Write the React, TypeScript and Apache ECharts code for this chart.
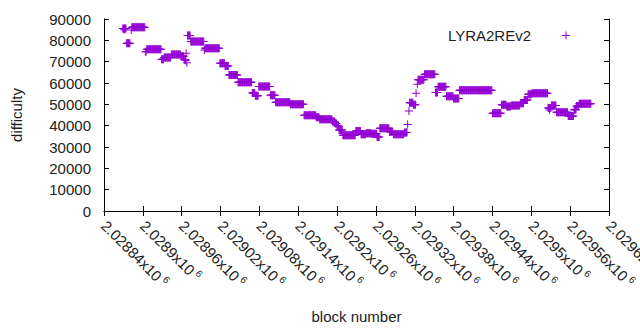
import React, { useEffect, useRef } from "react";
import * as echarts from "echarts";

const seriesName = "LYRA2REv2";
const xMin = 2028840;
const xMax = 2029620;
const xStep = 60;
const yMin = 0;
const yMax = 90000;
const yStep = 10000;

// Difficulty runs: every block from runStart to runEnd has the value runValue
const runStart = [
  2028869, 2028875, 2028882, 2028883, 2028904, 2028906, 2028929, 2028933, 2028944, 2028959,
  2028964, 2028967, 2028968, 2028969, 2028974, 2028995, 2028996, 2029019, 2029027, 2029033,
  2029047, 2029069, 2029074, 2029079, 2029097, 2029105, 2029128, 2029149, 2029168, 2029173,
  2029193, 2029197, 2029200, 2029203, 2029209, 2029229, 2029237, 2029245, 2029253, 2029262,
  2029266, 2029281, 2029287, 2029304, 2029309, 2029311, 2029312, 2029318, 2029322, 2029324,
  2029325, 2029335, 2029352, 2029356, 2029369, 2029380, 2029389, 2029440, 2029454, 2029462,
  2029469, 2029483, 2029489, 2029495, 2029501, 2029526, 2029531, 2029539, 2029557, 2029566,
  2029570, 2029574,
];
const runEnd = [
  2028874, 2028880, 2028882, 2028903, 2028905, 2028928, 2028932, 2028943, 2028958, 2028963,
  2028966, 2028967, 2028968, 2028973, 2028994, 2028995, 2029018, 2029026, 2029032, 2029046,
  2029068, 2029073, 2029078, 2029096, 2029104, 2029127, 2029148, 2029167, 2029172, 2029192,
  2029196, 2029199, 2029202, 2029208, 2029228, 2029236, 2029244, 2029252, 2029261, 2029265,
  2029280, 2029286, 2029303, 2029308, 2029309, 2029311, 2029317, 2029321, 2029322, 2029324,
  2029334, 2029351, 2029355, 2029368, 2029379, 2029388, 2029439, 2029453, 2029461, 2029468,
  2029482, 2029488, 2029494, 2029500, 2029525, 2029530, 2029538, 2029556, 2029565, 2029569,
  2029573, 2029592,
];
const runValue = [
  85600, 78600, 84800, 86100, 74700, 75800, 71100, 72000, 73400, 72500,
  71000, 73900, 69500, 82300, 79500, 75500, 76300, 69200, 68000, 63700,
  60300, 55300, 54000, 58400, 54200, 51000, 50000, 44850, 44000, 43000,
  42000, 41000, 40000, 38000, 35500, 37500, 36000, 36500, 36200, 34700,
  38750, 37200, 35950, 36800, 40600, 46900, 50800, 49800, 55200, 59400,
  61500, 64100, 55600, 58300, 53800, 52700, 56600, 45800, 49800, 49000,
  49500, 50500, 52000, 54700, 55200, 48300, 49400, 46300, 44500, 47500,
  49200, 50300,
];
// Isolated outlier blocks
const extraBlock = [2028871, 2028966, 2029528, 2029262];
const extraValue = [85000, 70500, 47300, 35000];

const plusPath = "path://M-4,-0.5L4,-0.5L4,0.5L-4,0.5Z M-0.5,-4L0.5,-4L0.5,4L-0.5,4Z";
const color = "#9400d3";
const font = "'Liberation Sans', Arial, sans-serif";

function buildData(): [number, number][] {
  const out: [number, number][] = [];
  for (let i = 0; i < runStart.length; i++) {
    for (let b = runStart[i]; b <= runEnd[i]; b++) out.push([b, runValue[i]]);
  }
  for (let i = 0; i < extraBlock.length; i++) out.push([extraBlock[i], extraValue[i]]);
  return out;
}

function fmtX(v: number): string {
  const s = parseFloat((v / 1e6).toFixed(5)).toString();
  return "{a|" + s + "x10}{s|6}";
}

export default function App() {
  const ref = useRef<HTMLDivElement>(null);
  useEffect(() => {
    if (!ref.current) return;
    const chart = echarts.init(ref.current, null, { renderer: "svg" });
    const axisLine = { show: true, lineStyle: { color: "#000", width: 1 } };
    const tick = { show: true, inside: true, length: 5, lineStyle: { color: "#000" } };
    chart.setOption({
      animation: false,
      backgroundColor: "#fff",
      textStyle: { fontFamily: font },
      grid: {
        left: 104,
        right: 31,
        top: 19,
        bottom: 119,
        containLabel: false,
        outerBoundsMode: "none",
      },
      legend: {
        show: true,
        right: 65,
        top: 23,
        align: "right",
        icon: plusPath,
        itemWidth: 8,
        itemHeight: 8,
        textStyle: { fontSize: 15, color: "#222", fontFamily: font, padding: [0, 26, 0, 0] },
        data: [seriesName],
      },
      xAxis: [
        {
          type: "value",
          min: xMin,
          max: xMax,
          interval: xStep,
          position: "bottom",
          name: "block number",
          nameLocation: "middle",
          nameGap: 98,
          nameTextStyle: { fontSize: 15, color: "#222", fontFamily: font },
          axisLine,
          axisTick: tick,
          splitLine: { show: false },
          axisLabel: {
            show: true,
            interval: 0,
            rotate: -45,
            margin: 12,
            hideOverlap: false,
            showMinLabel: true,
            showMaxLabel: true,
            formatter: fmtX,
            rich: {
              a: { fontSize: 15, color: "#222", fontFamily: font, lineHeight: 18 },
              s: { fontSize: 10, color: "#222", fontFamily: font, verticalAlign: "top", padding: [0, 0, 0, 3], lineHeight: 18 },
            },
          },
        },
        {
          type: "value",
          min: xMin,
          max: xMax,
          interval: xStep,
          position: "top",
          axisLine,
          axisTick: tick,
          axisLabel: { show: false },
          splitLine: { show: false },
        },
      ],
      yAxis: [
        {
          type: "value",
          min: yMin,
          max: yMax,
          interval: yStep,
          position: "left",
          name: "difficulty",
          nameLocation: "middle",
          nameRotate: 90,
          nameGap: 80,
          nameTextStyle: { fontSize: 15, color: "#222", fontFamily: font },
          axisLine,
          axisTick: tick,
          splitLine: { show: false },
          axisLabel: {
            show: true,
            margin: 13,
            fontSize: 15,
            color: "#222",
            fontFamily: font,
            formatter: (v: number) => String(v),
          },
        },
        {
          type: "value",
          min: yMin,
          max: yMax,
          interval: yStep,
          position: "right",
          axisLine,
          axisTick: tick,
          axisLabel: { show: false },
          splitLine: { show: false },
        },
      ],
      series: [
        {
          name: seriesName,
          type: "scatter",
          xAxisIndex: 0,
          yAxisIndex: 0,
          symbol: plusPath,
          symbolSize: 8,
          itemStyle: { color, opacity: 1 },
          data: buildData(),
        },
      ],
    });
    return () => chart.dispose();
  }, []);
  return <div ref={ref} style={{ width: 640, height: 330, position: "absolute", left: 0, top: 0 }} />;
}
